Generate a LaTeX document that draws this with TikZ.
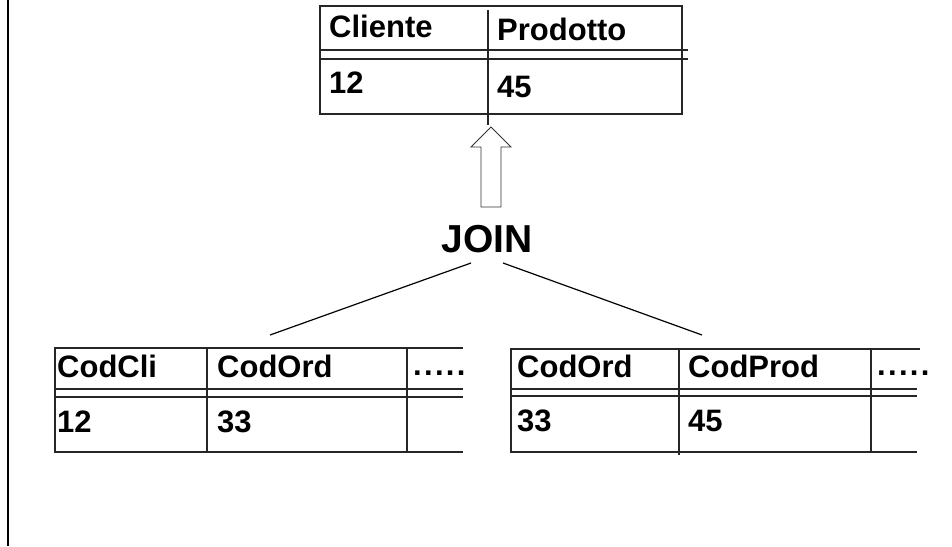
\documentclass[tikz,border=0pt]{standalone}
\usepackage{fontspec}
\setmainfont{Liberation Sans}
% five spaced dots marking further columns
\newcommand{\moredots}{.\kern2.3pt.\kern2.3pt.\kern2.3pt.\kern2.3pt.}
\begin{document}
\begin{tikzpicture}[x=1pt,y=-1pt,
  rule/.style={line width=1.4pt, black!85},
  cell/.style={anchor=base west, inner sep=0pt, font=\bfseries\fontsize{31}{31}\selectfont},
  joinlabel/.style={anchor=base, inner sep=0pt, font=\bfseries\fontsize{39}{39}\selectfont},
  link/.style={line width=1.2pt, black},
  blockarrow/.style={line width=0.8pt, black!80}]
\useasboundingbox (0,0) rectangle (952,546);

% margin rule on the left
\draw[line width=2.2pt] (8,0) -- (8,546);

% result table: Cliente / Prodotto
\draw[rule] (320,6) -- (682,6) -- (682,114) -- (320,114) -- cycle;
\draw[rule] (320,50) -- (688,50);
\draw[rule] (320,59) -- (688,59);
\draw[rule] (488,10) -- (488,125);
\node[cell] (cli)  at (329,37) {Cliente};
\node[cell] (prod) at (497,40) {Prodotto};
\node[cell] (v12)  at (329,93) {12};
\node[cell] (v45)  at (497,97) {45};

% left table: CodCli / CodOrd
\draw[rule] (463,348) -- (55,348) -- (55,452) -- (463,452);
\draw[rule] (55,389) -- (463,389);
\draw[rule] (55,397) -- (463,397);
\draw[rule] (207,348) -- (207,452);
\draw[rule] (407,348) -- (407,452);
\node[cell] (lcli) at (57,377)  {CodCli};
\node[cell] (lord) at (217,377) {CodOrd};
\node[cell] (ldot) at (413,375) {\moredots};
\node[cell] (l12)  at (57,432)  {12};
\node[cell] (l33)  at (217,432) {33};

% right table: CodOrd / CodProd
\draw[rule] (920,349) -- (511,349) -- (511,452) -- (917,452);
\draw[rule] (511,389) -- (917,389);
\draw[rule] (511,396) -- (917,396);
\draw[rule] (679,349) -- (679,455);
\draw[rule] (871,349) -- (871,452);
\node[cell] (rord)  at (517,377) {CodOrd};
\node[cell] (rprod) at (688,377) {CodProd};
\node[cell] (rdot)  at (877,375) {\moredots};
\node[cell] (r33)   at (517,431) {33};
\node[cell] (r45)   at (688,431) {45};

% join operator
\node[joinlabel] (join) at (487,252) {JOIN};
\coordinate (jl) at (471,263);
\coordinate (jr) at (503,263);
\coordinate (lt) at (270,335);
\coordinate (rt) at (702,335);
\draw[link] (jl) -- (lt);
\draw[link] (jr) -- (rt);

% hollow arrow up to the result
\draw[blockarrow] (491,127) -- (511,147) -- (501,147) -- (501,207)
  -- (481,207) -- (481,147) -- (471,147) -- cycle;
\end{tikzpicture}
\end{document}
